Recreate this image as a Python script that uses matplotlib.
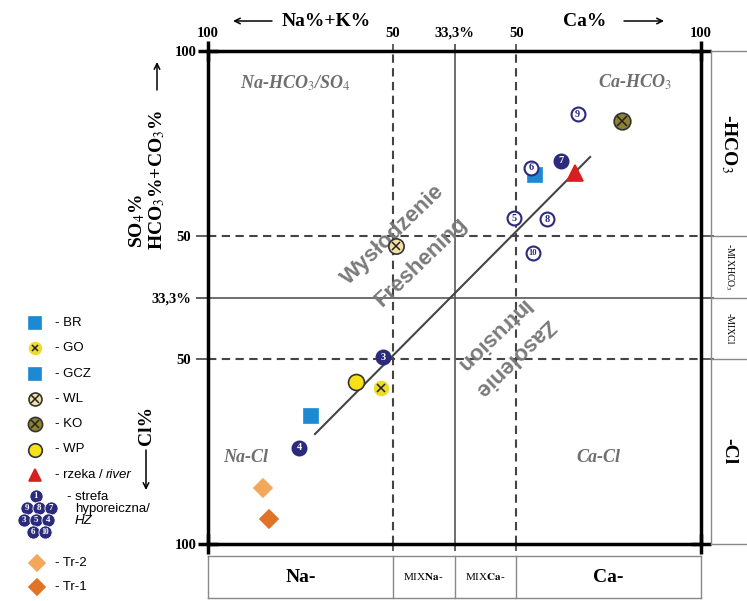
import matplotlib.pyplot as plt

plt.rcParams['font.family'] = 'Liberation Serif'
plt.rcParams['mathtext.fontset'] = 'stix'

# positions inside the square diagram, 0-100 (left Na -> right Ca, bottom Cl -> top HCO3)
hz_ids = ['3', '4', '5', '6', '7', '8', '9', '10']
hz_x = [35.5, 18.5, 62.1, 65.5, 71.6, 68.8, 75.0, 65.9]
hz_y = [37.9, 19.5, 66.1, 76.3, 77.7, 65.9, 87.2, 59.0]
hz_filled = ['3', '4', '7']

br_x, br_y = [20.9], [26.0]
go_x, go_y = [35.1], [31.6]
gcz_x, gcz_y = [66.3], [74.8]
wl_x, wl_y = [38.1], [60.4]
ko_x, ko_y = [84.0], [85.8]
wp_x, wp_y = [30.0], [32.9]
river_x, river_y = [74.4], [75.3]
tr2_x, tr2_y = [11.2], [11.4]
tr1_x, tr1_y = [12.4], [5.1]

trend_x = [21.7, 77.5]
trend_y = [22.3, 78.5]

major_pos = [0, 100]
major_lab = ['100', '100']
minor_pos = [37.5, 50, 62.5]
minor_lab = ['50', '33,3%', '50']

navy = '#2b2a7c'
blue = '#1b8ad3'
styles = {
    'BR': dict(marker='s', ms=9.5, mfc=blue, mec=blue, cross=False),
    'GO': dict(marker='o', ms=10, mfc='#eedc2c', mec='#eedc2c', cross=True),
    'GCZ': dict(marker='s', ms=9.5, mfc=blue, mec=blue, cross=False),
    'WL': dict(marker='o', ms=11, mfc='#f2e2a2', mec='#333333', cross=True),
    'KO': dict(marker='o', ms=12, mfc='#8c8232', mec='#333333', cross=True),
    'WP': dict(marker='o', ms=11.5, mfc='#f7e21a', mec='#333333', cross=False),
    'river': dict(marker='^', ms=11, mfc='#d62020', mec='#d62020', cross=False),
    'Tr-2': dict(marker='D', ms=9, mfc='#f2a85a', mec='#f2a85a', cross=False),
    'Tr-1': dict(marker='D', ms=9, mfc='#e07325', mec='#e07325', cross=False),
}
series = [('BR', br_x, br_y), ('GO', go_x, go_y), ('GCZ', gcz_x, gcz_y),
          ('WL', wl_x, wl_y), ('KO', ko_x, ko_y), ('WP', wp_x, wp_y),
          ('river', river_x, river_y), ('Tr-2', tr2_x, tr2_y), ('Tr-1', tr1_x, tr1_y)]


def draw(axis, x, y, key, scale=1.0):
    s = styles[key]
    axis.plot(x, y, ls='none', marker=s['marker'], ms=s['ms'] * scale, mfc=s['mfc'],
              mec=s['mec'], mew=1.2, zorder=5, clip_on=False)
    if s['cross']:
        axis.plot(x, y, ls='none', marker='x', ms=s['ms'] * scale * 0.55, mec='#222222',
                  mew=1.1, zorder=6, clip_on=False)


W, H = 747, 601
fig = plt.figure(figsize=(W / 100, H / 100), dpi=100)

# overlay in pixel units for the loose labels and the legend
lax = fig.add_axes([0, 0, 1, 1], zorder=-1)
lax.set_xlim(0, W)
lax.set_ylim(H, 0)
lax.axis('off')

ax = fig.add_axes([208 / W, 1 - 544 / H, 493 / W, 493 / H])
ax.set_xlim(0, 100)
ax.set_ylim(0, 100)
for s in ax.spines.values():
    s.set_linewidth(2.5)

ax.set_xticks(major_pos, major_lab)
ax.set_xticks(minor_pos, minor_lab, minor=True)
ax.set_yticks(major_pos, major_lab)
ax.set_yticks(minor_pos, minor_lab, minor=True)
ax.tick_params(which='major', direction='inout', length=14, width=2.5, pad=1, labelsize=10.5)
ax.tick_params(which='minor', direction='out', length=5, width=1.2, color='#444444', pad=3, labelsize=10.5)
ax.tick_params(axis='y', which='minor', length=9)
ax.tick_params(axis='x', which='both', top=True, bottom=True, labeltop=True, labelbottom=False)
ax.tick_params(axis='y', which='both', left=True, right=True, labelleft=True, labelright=False)
for lab in ax.get_xticklabels(which='both') + ax.get_yticklabels(which='both'):
    lab.set_fontweight('bold')

for p in [37.5, 62.5]:
    ax.axvline(p, color='#444444', lw=1.5, ls=(0, (4, 2.6)), zorder=1)
    ax.axhline(p, color='#444444', lw=1.5, ls=(0, (4, 2.6)), zorder=1)
ax.axvline(50, color='#555555', lw=1.2, zorder=1)
ax.axhline(50, color='#555555', lw=1.2, zorder=1)
ax.plot(trend_x, trend_y, color='#444444', lw=1.5, zorder=2)

for key, xs, ys in series:
    draw(ax, xs, ys, key)

for lab, x, y in zip(hz_ids, hz_x, hz_y):
    filled = lab in hz_filled
    ax.plot(x, y, 'o', ms=10, mfc=navy if filled else 'white', mec=navy, mew=1.5, zorder=7)
    ax.text(x, y, lab, color='white' if filled else navy, fontsize=7.5 if len(lab) < 2 else 6,
            fontweight='bold', ha='center', va='center', zorder=8)

grey = '#6e6e6e'
corner = dict(fontsize=13, fontweight='bold', style='italic', color=grey,
              ha='center', va='center', transform=ax.transAxes)
ax.text(0.178, 0.935, 'Na-HCO$_3$/SO$_4$', **corner)
ax.text(0.866, 0.937, 'Ca-HCO$_3$', **corner)
ax.text(0.077, 0.176, 'Na-Cl', **corner)
ax.text(0.791, 0.176, 'Ca-Cl', **corner)

proc = dict(family='Liberation Sans', fontsize=16, fontweight='bold', color='#7a7a7a',
            ha='center', va='center', rotation_mode='anchor', transform=ax.transAxes)
ax.text(0.375, 0.627, 'Wysłodzenie', rotation=44, **proc)
ax.text(0.432, 0.572, 'Freshening', rotation=44, **proc)
ax.text(0.576, 0.424, 'Intrusion', rotation=224, **proc)
ax.text(0.621, 0.379, 'Zasolenie', rotation=224, **proc)

# axis titles
arrow = dict(arrowstyle='->', lw=1.1, color='k', shrinkA=0, shrinkB=0)
lax.annotate('', xy=(233, 21), xytext=(272, 21), arrowprops=arrow)
lax.text(326, 21, 'Na%+K%', fontsize=14, fontweight='bold', ha='center', va='center')
lax.text(585, 21, 'Ca%', fontsize=14, fontweight='bold', ha='center', va='center')
lax.annotate('', xy=(664, 21), xytext=(624, 21), arrowprops=arrow)

lax.annotate('', xy=(157, 62), xytext=(157, 90), arrowprops=arrow)
lax.text(157, 250, 'HCO$_3$%+CO$_3$%', fontsize=14, fontweight='bold', rotation=90,
         rotation_mode='anchor', ha='left', va='center')
lax.text(137, 248, 'SO$_4$%', fontsize=14, fontweight='bold', rotation=90,
         rotation_mode='anchor', ha='left', va='center')
lax.text(146, 445, 'Cl%', fontsize=14, fontweight='bold', rotation=90,
         rotation_mode='anchor', ha='left', va='center')
lax.annotate('', xy=(146, 490), xytext=(146, 450), arrowprops=arrow)

# bottom class strip
sax = fig.add_axes([208 / W, 1 - 598 / H, 493 / W, 42 / H])
sax.set_xlim(0, 100)
sax.set_ylim(0, 1)
sax.axis('off')
for p in [0] + minor_pos + [100]:
    sax.axvline(p, color='#888888', lw=1, clip_on=False)
sax.axhline(0, color='#888888', lw=1, clip_on=False)
sax.axhline(1, color='#888888', lw=1, clip_on=False)
sax.text(18.75, 0.5, 'Na-', fontsize=14, fontweight='bold', ha='center', va='center')
sax.text(43.75, 0.5, r'MIX$\mathbf{Na}$-', fontsize=8, ha='center', va='center')
sax.text(56.25, 0.5, r'MIX$\mathbf{Ca}$-', fontsize=8, ha='center', va='center')
sax.text(81.25, 0.5, 'Ca-', fontsize=14, fontweight='bold', ha='center', va='center')

# right class strip
rax = fig.add_axes([711 / W, 1 - 544 / H, 60 / W, 493 / H])
rax.set_xlim(0, 1)
rax.set_ylim(0, 100)
rax.axis('off')
rax.axvline(0, color='#888888', lw=1, clip_on=False)
for p in [0] + minor_pos + [100]:
    rax.axhline(p, color='#888888', lw=1, clip_on=False)
rax.text(0.3, 81.25, '-HCO$_3$', fontsize=14, fontweight='bold', rotation=-90, ha='center', va='center')
rax.text(0.3, 56.25, '-MIXHCO$_3$', fontsize=7, rotation=-90, ha='center', va='center')
rax.text(0.3, 43.75, '-MIXCl', fontsize=7, rotation=-90, ha='center', va='center')
rax.text(0.3, 18.75, '-Cl', fontsize=14, fontweight='bold', rotation=-90, ha='center', va='center')

# legend
leg_keys = ['BR', 'GO', 'GCZ', 'WL', 'KO', 'WP', 'river']
leg_text = ['- BR', '- GO', '- GCZ', '- WL', '- KO', '- WP', '- rzeka / ']
sans = dict(family='Liberation Sans', fontsize=9.5, va='center')
for i, (key, txt) in enumerate(zip(leg_keys, leg_text)):
    y = 323 + 25.3 * i
    draw(lax, [35], [y], key, scale=0.85)
    t = lax.text(55, y, txt, **sans)
    if key == 'river':
        lax.annotate('river', xy=(1, 0.5), xycoords=t, style='italic', **sans)

hz_leg = [('1', 36, 496), ('9', 27, 508), ('8', 39, 508), ('7', 51, 508),
          ('3', 24, 520), ('5', 36, 520), ('4', 48, 520), ('6', 33, 532), ('10', 45, 532)]
for lab, x, y in hz_leg:
    lax.plot(x, y, 'o', ms=9.5, mfc=navy, mec='white', mew=0.6)
    lax.text(x, y, lab, color='white', fontsize=6.5 if len(lab) < 2 else 5.5, fontweight='bold',
             ha='center', va='center')
lax.text(67, 497, '- strefa', **sans)
lax.text(75, 509, 'hyporeiczna/', **sans)
lax.text(75, 521, 'HZ', style='italic', **sans)

for key, y in [('Tr-2', 563), ('Tr-1', 587)]:
    draw(lax, [37], [y], key, scale=0.85)
    lax.text(55, y, '- ' + key, **sans)

fig.savefig('out.png', dpi=100)
